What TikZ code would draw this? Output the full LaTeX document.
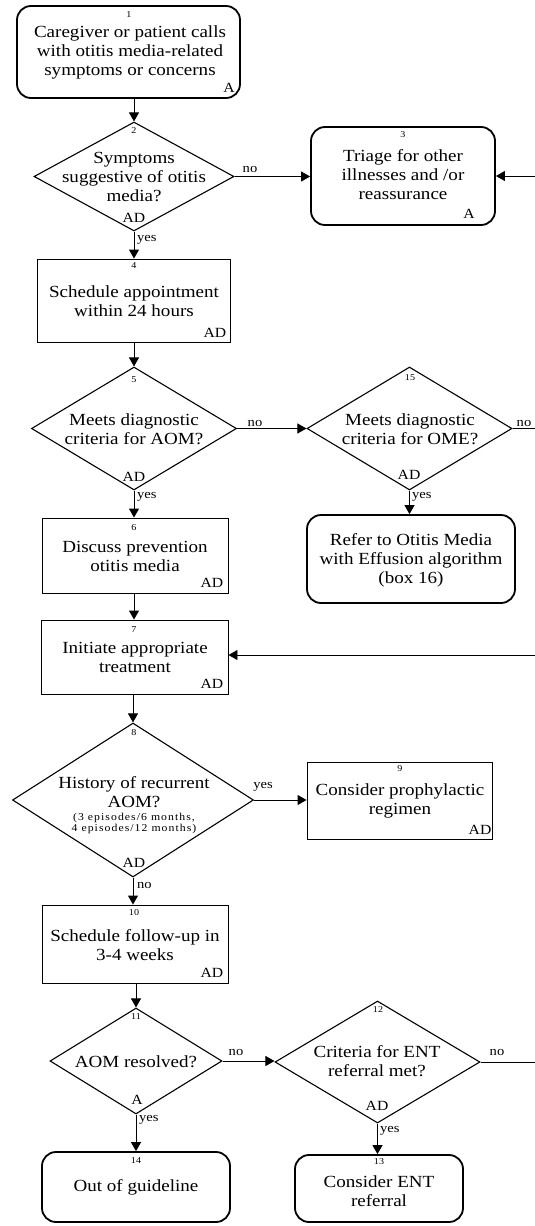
\documentclass[tikz,border=0pt]{standalone}
\usepackage{fontspec}
\setmainfont{Liberation Serif}[FakeStretch=1.12]
\usetikzlibrary{shapes.geometric,arrows.meta}
\begin{document}
\begin{tikzpicture}[x=1pt,y=-1pt,
  rbox/.style={draw, rounded corners=14pt, line width=1.8pt, inner sep=0pt},
  sbox/.style={draw, line width=0.9pt, inner sep=0pt},
  dia/.style={draw, diamond, line width=1.1pt, inner sep=0pt},
  txt/.style={align=center, font=\fontsize{17}{19}\selectfont, inner sep=0pt},
  smalltxt/.style={align=center, font=\fontsize{10.5}{11}\selectfont\addfontfeatures{LetterSpace=10}, inner sep=0pt},
  num/.style={font=\fontsize{9}{10}\selectfont, inner sep=0pt},
  tag/.style={font=\fontsize{14}{14}\selectfont, inner sep=0pt},
  lab/.style={font=\fontsize{13}{13}\selectfont, inner sep=0pt},
  arr/.style={-{Triangle[length=9pt,width=10pt]}, line width=0.9pt},
  ln/.style={line width=0.9pt}]
\useasboundingbox (0,0) rectangle (535,1226);

% shapes
\node[rbox, minimum width=223pt, minimum height=92pt] (b1) at (128.5,52) {};
\node[dia, minimum width=200pt, minimum height=109pt] (d2) at (134,176.5) {};
\node[rbox, minimum width=184pt, minimum height=98pt] (b3) at (403,176) {};
\node[sbox, minimum width=193pt, minimum height=83pt] (b4) at (134,300.5) {};
\node[dia, minimum width=205pt, minimum height=123pt] (d5) at (134,428.5) {};
\node[dia, minimum width=205pt, minimum height=123pt] (d15) at (409.5,428.5) {};
\node[rbox, minimum width=208pt, minimum height=88pt] (b16) at (411,559) {};
\node[sbox, minimum width=186pt, minimum height=75pt] (b6) at (135,555.5) {};
\node[sbox, minimum width=187pt, minimum height=74pt] (b7) at (134.5,657) {};
\node[dia, minimum width=241pt, minimum height=154pt] (d8) at (133,800) {};
\node[sbox, minimum width=185pt, minimum height=77pt] (b9) at (399.5,800.5) {};
\node[sbox, minimum width=186pt, minimum height=78pt] (b10) at (135,944) {};
\node[dia, minimum width=172pt, minimum height=106pt] (d11) at (136,1061) {};
\node[dia, minimum width=205pt, minimum height=122pt] (d12) at (377.5,1062) {};
\node[rbox, minimum width=168pt, minimum height=67pt] (b13) at (379,1188.5) {};
\node[rbox, minimum width=188pt, minimum height=70pt] (b14) at (136,1187) {};

% numbers
\node[num] (n1) at (129,15) {1};
\node[num] (n2) at (134,131) {2};
\node[num] (n3) at (403,135) {3};
\node[num] (n4) at (134,266) {4};
\node[num] (n5) at (134,380) {5};
\node[num] (n15) at (410,378) {15};
\node[num] (n6) at (134,528) {6};
\node[num] (n7) at (134,630) {7};
\node[num] (n8) at (134,733) {8};
\node[num] (n9) at (400,769) {9};
\node[num] (n10) at (134,913) {10};
\node[num] (n11) at (136,1017) {11};
\node[num] (n12) at (378,1010) {12};
\node[num] (n13) at (379,1162) {13};
\node[num] (n14) at (136,1161) {14};

% main texts
\node[txt] (t1) at (130,52) {Caregiver or patient calls\\with otitis media-related\\symptoms or concerns};
\node[txt] (t2) at (134,177) {Symptoms\\suggestive of otitis\\media?};
\node[txt] (t3) at (403,175) {Triage for other\\illnesses and /or\\reassurance};
\node[txt] (t4) at (134,301.5) {Schedule appointment\\within 24 hours};
\node[txt] (t5) at (134,429.5) {Meets diagnostic\\criteria for AOM?};
\node[txt] (t15) at (410,429.5) {Meets diagnostic\\criteria for OME?};
\node[txt] (t16) at (411,560) {Refer to Otitis Media\\with Effusion algorithm\\(box 16)};
\node[txt] (t6) at (135,556.5) {Discuss prevention\\otitis media};
\node[txt] (t7) at (135,657) {Initiate appropriate\\treatment};
\node[txt] (t8) at (134,792) {History of recurrent\\AOM?};
\node[smalltxt] (t8b) at (134,823.5) {(3 episodes/6 months,\\4 episodes/12 months)};
\node[txt] (t9) at (400,801) {Consider prophylactic\\regimen};
\node[txt] (t10) at (135,945) {Schedule follow-up in\\3-4 weeks};
\node[txt] (t11) at (136,1062) {AOM resolved?};
\node[txt] (t12) at (377,1061) {Criteria for ENT\\referral met?};
\node[txt] (t13) at (379,1191) {Consider ENT\\referral};
\node[txt] (t14) at (136,1187) {Out of guideline};

% tags
\node[tag] (a1) at (229,88) {A};
\node[tag] (a2) at (134,218) {AD};
\node[tag] (a3) at (469,214) {A};
\node[tag] (a4) at (215,333) {AD};
\node[tag] (a5) at (134,477) {AD};
\node[tag] (a15) at (409,475) {AD};
\node[tag] (a6) at (212,583) {AD};
\node[tag] (a7) at (212,684) {AD};
\node[tag] (a8) at (134,863) {AD};
\node[tag] (a9) at (480,830) {AD};
\node[tag] (a10) at (212,973) {AD};
\node[tag] (a11) at (137,1100) {A};
\node[tag] (a12) at (377,1106) {AD};

% free ends
\coordinate (r3) at (535,176);
\coordinate (r15) at (535,428.5);
\coordinate (r7) at (535,655);
\coordinate (r12) at (535,1062);

% connectors
\draw[arr] (b1.south -| d2.north) -- (d2.north);
\draw[arr] (d2.east) -- (d2.east -| b3.west);
\draw[arr] (r3) -- (r3 -| b3.east);
\draw[arr] (d2.south) -- (b4.north -| d2.south);
\draw[arr] (b4.south -| d5.north) -- (d5.north);
\draw[arr] (d5.east) -- (d15.west);
\draw[ln] (d15.east) -- (r15);
\draw[arr] (d15.south) -- (b16.north -| d15.south);
\draw[arr] (d5.south) -- (b6.north -| d5.south);
\draw[arr] (b6.south -| d5.south) -- (b7.north -| d5.south);
\draw[arr] (r7) -- (r7 -| b7.east);
\draw[arr] (b7.south -| d8.north) -- (d8.north);
\draw[arr] (d8.east) -- (d8.east -| b9.west);
\draw[arr] (d8.south) -- (b10.north -| d8.south);
\draw[arr] (b10.south -| d11.north) -- (d11.north);
\draw[arr] (d11.east) -- (d11.east -| d12.west);
\draw[ln] (d12.east) -- (r12);
\draw[arr] (d12.south) -- (b13.north -| d12.south);
\draw[arr] (d11.south) -- (b14.north -| d11.south);

% branch labels
\node[lab] (l2n) at (250,169) {no};
\node[lab, anchor=west] (l2y) at (137,240) {yes};
\node[lab] (l5n) at (255,423) {no};
\node[lab, anchor=west] (l5y) at (137,497) {yes};
\node[lab] (l15n) at (524,423) {no};
\node[lab, anchor=west] (l15y) at (412,497) {yes};
\node[lab] (l8y) at (263,787) {yes};
\node[lab, anchor=west] (l8n) at (137,885) {no};
\node[lab] (l11n) at (236,1052) {no};
\node[lab, anchor=west] (l11y) at (139,1120) {yes};
\node[lab] (l12n) at (497,1052) {no};
\node[lab, anchor=west] (l12y) at (380,1131) {yes};
\end{tikzpicture}
\end{document}
